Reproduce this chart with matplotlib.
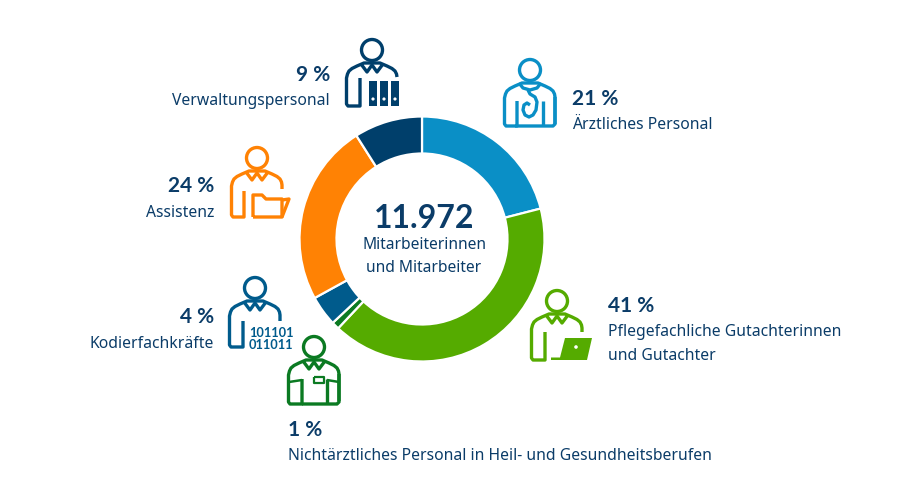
import matplotlib
matplotlib.use('agg')
import matplotlib.pyplot as plt
from matplotlib.patches import Circle, Rectangle, Polygon

plt.rcParams['font.family'] = ['Noto Sans', 'DejaVu Sans']

H = 502
NAVY = '#0b3c68'
BOLD = ['Lato', 'DejaVu Sans']

# share of staff, clockwise from the top
groups = ['Ärztliches Personal', 'Pflegefachliche Gutachterinnen\nund Gutachter',
          'Nichtärztliches Personal in Heil- und Gesundheitsberufen',
          'Kodierfachkräfte', 'Assistenz', 'Verwaltungspersonal']
shares = [21, 41, 1, 4, 24, 9]
colors = ['#0a8fc6', '#55ab00', '#0b7a22', '#005b8c', '#ff8204', '#003f6b']

fig = plt.figure(figsize=(9, 5.02), dpi=100)
ax = fig.add_axes([0, 0, 1, 1])

ax.pie(shares, colors=colors, startangle=90, counterclock=False,
       center=(422, H - 240), radius=122.5, frame=True,
       wedgeprops={'width': 37, 'edgecolor': 'white', 'linewidth': 1.6})
ax.set_xlim(0, 900)
ax.set_ylim(0, H)
ax.set_aspect('equal')
ax.axis('off')


def line(pts, color, lw=2.4):
    ax.plot([p[0] for p in pts], [H - p[1] for p in pts], color=color, lw=lw,
            solid_joinstyle='round', solid_capstyle='butt')


SHOULDERS = [(25, 27), (24.5, 24), (23, 21), (20, 18.5), (15, 16), (8, 13), (-8, 13), (-15, 16),
             (-20, 18.5), (-23, 21), (-24.5, 24), (-25.5, 28)]


def person(hx, hy, color, right_end=31, bottom=56, inner=-12, inner_top=30, collar=True):
    # head, shoulders, collar and left arm, all relative to the head centre
    ax.add_patch(Circle((hx, H - hy), 10.5, fc='none', ec=color, lw=2.4))
    pts = [(25, right_end)] + SHOULDERS + [(-25.5, bottom - 2), (-24, bottom), (inner, bottom), (inner, inner_top)]
    line([(hx + a, hy + b) for a, b in pts], color)
    if collar:
        pts = [(-11, 14), (-5, 22), (0, 15), (5, 22), (11, 14)]
        line([(hx + a, hy + b) for a, b in pts], color)


def poly(pts, color):
    ax.add_patch(Polygon([(x, H - y) for x, y in pts], closed=True, fc=color, ec='none'))


# Verwaltungspersonal
person(372, 51, colors[5], right_end=27, bottom=56, inner=-12, inner_top=28)
for x in [369, 380, 391]:
    ax.add_patch(Rectangle((x, H - 107), 8, 25, fc=colors[5], ec='none'))
    ax.add_patch(Circle((x + 4, H - 100), 1.6, fc='white', ec='none'))

# Ärztliches Personal
person(530, 71, colors[0], right_end=54, bottom=56, inner=-13, inner_top=31, collar=False)
line([(555, 98), (555, 125), (553, 127), (515, 127)], colors[0])
line([(543, 102), (543, 127)], colors[0])
line([(519, 84), (523, 89), (530, 91), (537, 89), (541, 84)], colors[0])
line([(528, 91), (530, 95), (535, 98), (537, 103), (536, 111), (533, 116), (529, 118), (525, 116),
      (523, 111), (524, 106), (527, 104), (530, 106)], colors[0])

# Assistenz
person(257, 159, colors[4], right_end=31, bottom=59, inner=-13, inner_top=33)
line([(253, 218), (253, 196), (262, 196), (266, 200), (282, 200), (282, 218), (253, 218)], colors[4])
line([(282, 201), (289, 200), (282, 218)], colors[4])

# Kodierfachkräfte
person(255, 289, colors[3], right_end=33, bottom=59, inner=-12, inner_top=33)
ax.text(249, H - 333, '101101', color=colors[3], fontsize=9.2, fontweight='bold', family=BOLD, va='center', ha='left')
ax.text(249, H - 345, '011011', color=colors[3], fontsize=9.2, fontweight='bold', family=BOLD, va='center', ha='left')

# Nichtärztliches Personal
person(314, 348, colors[2], right_end=54, bottom=57, inner=-12, inner_top=32)
line([(339, 375), (339, 403), (337, 405), (302, 405)], colors[2])
line([(327, 380), (327, 405)], colors[2])
line([(289, 383), (302, 381)], colors[2], lw=1.8)
line([(327, 381), (339, 383)], colors[2], lw=1.8)
line([(314, 378), (324, 378), (324, 383.5), (314, 383.5), (314, 378)], colors[2], lw=1.6)

# Pflegefachliche Gutachter
person(557, 302, colors[1], right_end=31, bottom=59, inner=-12, inner_top=31)
poly([(565, 339), (592, 339), (587, 361), (551, 361), (551, 358.5), (560, 358.5)], colors[1])
ax.add_patch(Circle((576, H - 348), 1.8, fc='white', ec='none'))

# labels: percent, name, x, y of percent, y of name, alignment
labels = [
    ('9 %', groups[5], 330, 75, 101, 'right'),
    ('21 %', groups[0], 572, 99, 125, 'left'),
    ('24 %', groups[4], 214, 186, 213, 'right'),
    ('4 %', groups[3], 214, 317, 344, 'right'),
    ('1 %', groups[2], 288, 430, 456, 'left'),
    ('41 %', None, 608, 306, None, 'left'),
]
for pct, name, x, y1, y2, ha in labels:
    ax.text(x, H - y1, pct, color=NAVY, fontsize=15, fontweight='bold', family=BOLD, ha=ha, va='center')
    if name:
        ax.text(x, H - y2, name, color=NAVY, fontsize=11.3, ha=ha, va='center')
ax.text(608, H - 332, 'Pflegefachliche Gutachterinnen', color=NAVY, fontsize=11.3, ha='left', va='center')
ax.text(608, H - 356, 'und Gutachter', color=NAVY, fontsize=11.3, ha='left', va='center')

# centre of the ring
ax.text(424, H - 218, '11.972', color=NAVY, fontsize=23, fontweight='bold', family=BOLD, ha='center', va='center')
ax.text(424, H - 245, 'Mitarbeiterinnen', color=NAVY, fontsize=11.2, ha='center', va='center')
ax.text(424, H - 268, 'und Mitarbeiter', color=NAVY, fontsize=11.2, ha='center', va='center')

fig.savefig('out.png', dpi=100, facecolor='white')
plt.close()
